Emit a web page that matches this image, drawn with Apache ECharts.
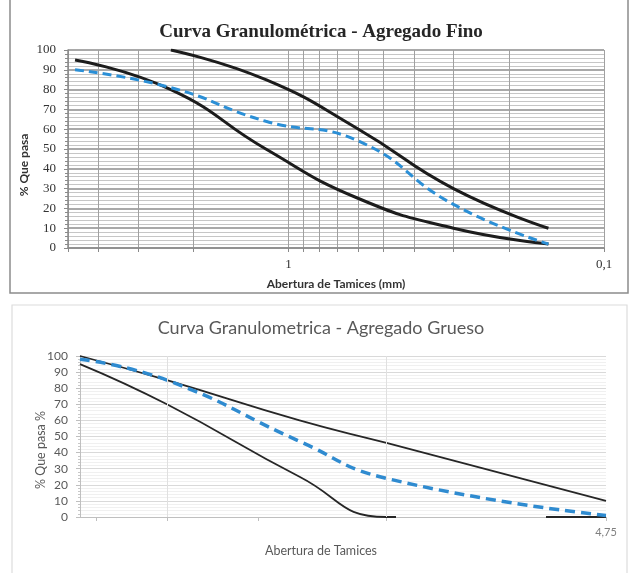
<!DOCTYPE html>
<html><head><meta charset="utf-8">
<script src="https://cdn.jsdelivr.net/npm/echarts@6/dist/echarts.min.js"></script>
<style>html,body{margin:0;padding:0;background:#fff}#c{width:629px;height:573px}</style>
</head><body><div id="c"></div>
<script>
// ---- Agregado fino (sieve opening mm, % que pasa) ----
const finoSieves   = [4.75, 2.36, 1.18, 0.6, 0.3, 0.15];
const finoUpper    = [null, 100, 85, 60, 30, 10];
const finoLower    = [95, 80, 50, 25, 10, 2];
const finoMuestra  = [90, 81, 64, 54, 22, 2];
const finoGridVals = [5, 4, 3, 2, 1, 0.9, 0.8, 0.7, 0.6, 0.5, 0.4, 0.3, 0.2, 0.1];
const finoLabels   = [1, 0.1];

// ---- Agregado grueso ----
const gruesoSieves  = [25, 19, 12.5, 9.5, 4.75];
const gruesoUpper   = [100, 85, 60, 46, 10];
const gruesoLower   = [95, 70, 25, 0, 0];
const gruesoMuestra = [98, 85, 47, 24, 1];
const gruesoTickVals = [23.75, 19, 14.25, 9.5, 4.75];
const gruesoGridVals = [19, 9.5];
const gruesoLabels  = [4.75];
// stretch of the lower limit that falls below 0 in the original smoothing (hidden by clipping)
const gruesoLowerHidden = [5.74, 9.22];

const titleFino = 'Curva Granulométrica - Agregado Fino';
const titleGrueso = 'Curva Granulometrica - Agregado Grueso';

function pairs(xs, ys) {
  const out = [];
  xs.forEach((x, i) => { if (ys[i] != null) out.push([x, ys[i]]); });
  return out;
}
const fmt = v => Number(Number(v).toPrecision(6)).toString().replace('.', ',');

const chart = echarts.init(document.getElementById('c'), null, {renderer: 'canvas'});

const blackTop = {color: '#1c1c1c', width: 3};
const blueTop = {color: '#2b8fd6', width: 3, type: [9, 5]};
const blackBot = {color: '#262626', width: 1.8};
const blueBot = {color: '#2f8bd0', width: 3.5, type: [10, 6]};

chart.setOption({
  animation: false,
  backgroundColor: '#ffffff',
  graphic: [
    {type: 'rect', shape: {x: 10, y: -5, width: 618, height: 298}, style: {fill: 'none', stroke: '#8c8c8c', lineWidth: 1.5}, silent: true},
    {type: 'rect', shape: {x: 12, y: 305, width: 615, height: 280}, style: {fill: 'none', stroke: '#dcdcdc', lineWidth: 1.2}, silent: true},
    {type: 'text', style: {text: titleFino, x: 321, y: 32, textAlign: 'center', textVerticalAlign: 'middle', font: 'bold 19px "Liberation Serif"', fill: '#262626'}},
    {type: 'text', style: {text: titleGrueso, x: 321, y: 328, textAlign: 'center', textVerticalAlign: 'middle', font: '18px Lato', fill: '#595959'}}
  ],
  visualMap: [{
    type: 'continuous', show: false, seriesIndex: 5, dimension: 0,
    min: 4.75, max: 25, range: gruesoLowerHidden,
    inRange: {color: ['rgba(38,38,38,0)']},
    outOfRange: {color: ['#262626']}
  }],
  grid: [
    {left: 68, right: 25, top: 50, bottom: 325, containLabel: false},
    {left: 80, right: 23, top: 356, bottom: 56, containLabel: false}
  ],
  xAxis: [
    {
      gridIndex: 0, type: 'log', logBase: 10, min: 0.1, max: 5, inverse: true,
      name: 'Abertura de Tamices (mm)', nameLocation: 'middle', nameGap: 30, nameMoveOverlap: false,
      nameTextStyle: {fontFamily: 'Lato', fontWeight: 'bold', fontSize: 12, color: '#333'},
      axisLine: {show: true, lineStyle: {color: '#8a8a8a', width: 1.5}},
      axisTick: {show: true, customValues: finoGridVals, length: 4, lineStyle: {color: '#8a8a8a'}},
      axisLabel: {customValues: finoLabels, formatter: fmt, fontFamily: 'Liberation Serif', fontSize: 13, color: '#333', margin: 10},
      splitLine: {show: true, lineStyle: {color: '#a0a0a0', width: 1}}
    },
    {
      gridIndex: 1, type: 'log', logBase: 2, min: 4.75, max: 25, inverse: true,
      name: 'Abertura de Tamices', nameLocation: 'middle', nameGap: 27, nameMoveOverlap: false,
      nameTextStyle: {fontFamily: 'Lato', fontSize: 12.5, color: '#595959', padding: [0, 44, 0, 0]},
      axisLine: {show: true, lineStyle: {color: '#bfbfbf', width: 1}},
      axisTick: {show: true, customValues: gruesoTickVals, length: 4, lineStyle: {color: '#bfbfbf'}},
      axisLabel: {customValues: gruesoLabels, formatter: fmt, fontFamily: 'Lato', fontSize: 11, color: '#7f7f7f', margin: 10},
      splitLine: {show: false}
    }
  ],
  yAxis: [
    {
      gridIndex: 0, type: 'value', min: 0, max: 100, interval: 10,
      name: '% Que pasa', nameLocation: 'middle', nameGap: 38, nameMoveOverlap: false,
      nameTextStyle: {fontFamily: 'Lato', fontWeight: 'bold', fontSize: 12, color: '#333', padding: [0, 32, 0, 0]},
      axisLine: {show: true, lineStyle: {color: '#8a8a8a', width: 1.5}},
      axisTick: {show: true, length: 4, lineStyle: {color: '#8a8a8a'}},
      minorTick: {show: true, splitNumber: 5, length: 3, lineStyle: {color: '#8a8a8a'}},
      axisLabel: {fontFamily: 'Liberation Serif', fontSize: 13, color: '#333', margin: 12},
      splitLine: {show: true, lineStyle: {color: '#8c8c8c', width: 1.5}},
      minorSplitLine: {show: true, lineStyle: {color: '#c6c6c6', width: 1}}
    },
    {
      gridIndex: 1, type: 'value', min: 0, max: 100, interval: 10,
      name: '% Que pasa %', nameLocation: 'middle', nameGap: 33, nameMoveOverlap: false,
      nameTextStyle: {fontFamily: 'Lato', fontSize: 12.5, color: '#595959', padding: [0, 27, 0, 0]},
      axisLine: {show: true, lineStyle: {color: '#bfbfbf', width: 1}},
      axisTick: {show: true, length: 4, lineStyle: {color: '#bfbfbf'}},
      minorTick: {show: true, splitNumber: 5, length: 2, lineStyle: {color: '#c8c8c8'}},
      axisLabel: {fontFamily: 'Lato', fontSize: 12, color: '#595959', margin: 12},
      splitLine: {show: true, lineStyle: {color: '#d9d9d9', width: 1}},
      minorSplitLine: {show: true, lineStyle: {color: '#f0f0f0', width: 1}}
    }
  ],
  series: [
    {type: 'line', xAxisIndex: 1, yAxisIndex: 1, data: [], silent: true, z: 1,
     markLine: {silent: true, symbol: 'none', label: {show: false},
       lineStyle: {color: '#e0e0e0', width: 1, type: 'solid'},
       data: gruesoGridVals.map(v => ({xAxis: v}))}},
    {type: 'line', xAxisIndex: 0, yAxisIndex: 0, smooth: 0.5, symbol: 'none', z: 3, lineStyle: blackTop, data: pairs(finoSieves, finoUpper)},
    {type: 'line', xAxisIndex: 0, yAxisIndex: 0, smooth: 0.5, symbol: 'none', z: 3, lineStyle: blackTop, data: pairs(finoSieves, finoLower)},
    {type: 'line', xAxisIndex: 0, yAxisIndex: 0, smooth: 0.5, symbol: 'none', z: 4, lineStyle: blueTop, data: pairs(finoSieves, finoMuestra)},
    {type: 'line', xAxisIndex: 1, yAxisIndex: 1, smooth: 0.5, symbol: 'none', z: 3, lineStyle: blackBot, data: pairs(gruesoSieves, gruesoUpper)},
    {type: 'line', xAxisIndex: 1, yAxisIndex: 1, smooth: 0.5, symbol: 'none', z: 3, lineStyle: {width: blackBot.width}, data: pairs(gruesoSieves, gruesoLower)},
    {type: 'line', xAxisIndex: 1, yAxisIndex: 1, smooth: 0.5, symbol: 'none', z: 4, lineStyle: blueBot, data: pairs(gruesoSieves, gruesoMuestra)}
  ]
});
</script></body></html>
